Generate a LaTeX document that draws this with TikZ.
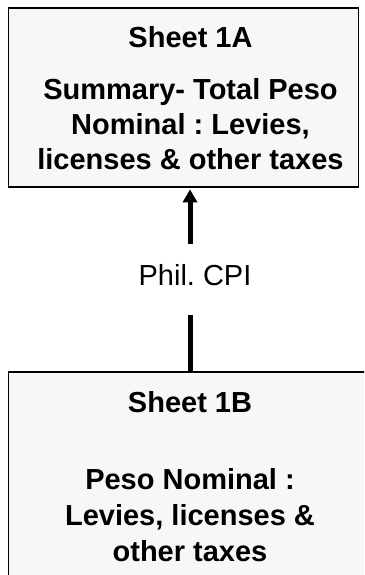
\documentclass[tikz,border=0pt]{standalone}
\usepackage{fontspec}
\setmainfont{Liberation Sans}
\usepackage{tikz}
\usetikzlibrary{positioning, arrows.meta}
\definecolor{sheetfill}{HTML}{F7F7F7}
\frenchspacing

\begin{document}
\begin{tikzpicture}[x=1pt,y=-1pt,
        sheet/.style={draw=black,line width=1.8pt,fill=sheetfill,inner sep=0pt},
        sheettext/.style={align=center,inner sep=0pt,anchor=north,font=\bfseries\fontsize{29}{36}\selectfont},
        flow/.style={line width=5pt,-{Triangle[length=13pt,width=14pt]},shorten >=1.5pt}]
    \useasboundingbox (0,0) rectangle (364,575);
    \begin{scope}
        \clip (0,0) rectangle (364,575);
        \node[sheet,minimum width=350pt,minimum height=179pt] (sheetA) at (183.5,97.5) {};
        \node[sheet,minimum width=363pt,minimum height=240pt] (sheetB) at (190,492) {};
    \end{scope}
    \node[sheettext,font=\bfseries\fontsize{29}{35}\selectfont] (textA) at (190.5,26) {Sheet 1A\\[17pt]Summary- Total Peso\\Nominal : Levies,\\licenses \& other taxes};
    \node[sheettext] (textB) at (190,391) {Sheet 1B\\[41pt]Peso Nominal :\\Levies, licenses \&\\other taxes};
    \draw[flow] (sheetB.north) -- (sheetB.north |- sheetA.south)
        node[midway,xshift=5pt,fill=white,minimum height=71pt,text height=20pt,text depth=8pt,
             font=\fontsize{29}{35}\selectfont] (cpi) {Phil. CPI};
    %\draw[flow] (sheetB.north) -- (sheetA.south);
\end{tikzpicture}
\end{document}
